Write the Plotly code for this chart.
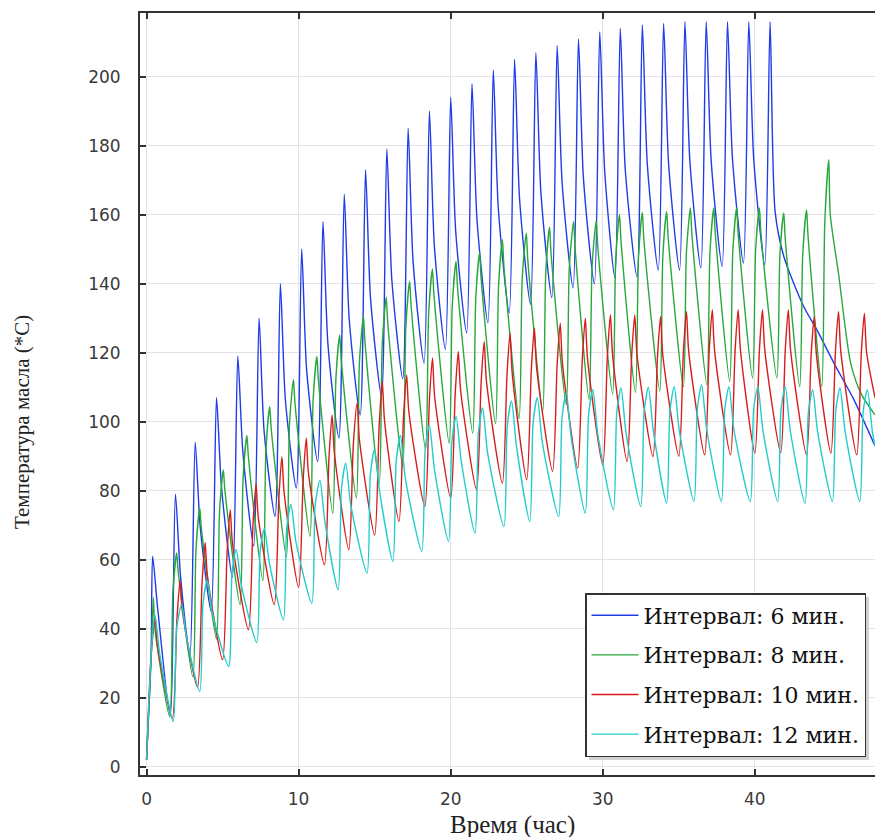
import plotly.graph_objects as go

# ---------------- data ----------------
START_T = [0.0, 0.3]
START_Y = [2.0, 32.0]

# Interval 6 min (blue)
blue_peak_t = [0.4, 1.9, 3.2, 4.6, 6.0, 7.4, 8.8, 10.2, 11.6, 13.0, 14.4, 15.8, 17.2, 18.6, 20.0,
               21.4, 22.8, 24.2, 25.6, 27.0, 28.4, 29.8, 31.15, 32.6, 34.0, 35.4, 36.8, 38.2, 39.6, 41.0]
blue_peak_y = [61, 79, 94, 107, 119, 130, 140, 150, 158, 166, 173, 179, 185, 190, 194,
               198, 202, 205, 207, 209, 211, 213, 214, 215, 215.5, 216, 216, 216, 216, 216]
blue_trough_t = [1.55, 2.85, 4.25, 5.65, 7.05, 8.45, 9.85, 11.25, 12.65, 14.05, 15.45, 16.85, 18.25, 19.65,
                 21.05, 22.45, 23.85, 25.25, 26.65, 28.05, 29.45, 30.8, 32.25, 33.65, 35.05, 36.45, 37.85, 39.25, 40.65]
blue_trough_y = [15, 32, 45, 55, 64, 72.6, 80.8, 88.5, 95.3, 102, 107.5, 112.5, 117, 121,
                 125.8, 128.7, 131.6, 134, 136, 138.8, 140, 141.7, 142, 144, 144, 144.6, 145, 146, 145.5]
blue_shoulder_y = [46, 55.5, 69.5, 81, 91.5, 97.3, 106.3, 114.9, 122.3, 129.5, 135.7, 141.1, 146.2, 150.7,
                   155.1, 158.5, 161.9, 164.5, 166.5, 169, 170.5, 172.4, 173, 174.5, 174.7, 175.3, 175.5, 176.1, 175.8]
blue_knee_y = None
blue_tail_t = [41.33, 41.9, 43.2, 44.1, 45.2, 46.5, 47.9]
blue_tail_y = [161, 148, 133.5, 126.5, 117, 106.5, 93]

# Interval 8 min (green)
green_peak_t = [0.45, 1.98, 3.5, 5.05, 6.6, 8.1, 9.66, 11.2, 12.7, 14.26, 15.76, 17.3, 18.8, 20.35, 21.9,
                23.4, 24.97, 26.5, 28.08, 29.57, 31.1, 32.6, 34.2, 35.76, 37.3, 38.8, 40.3, 41.9, 43.4, 44.86]
green_peak_y = [49, 62, 75, 86, 96, 104.4, 112.2, 118.9, 125.2, 130.5, 136.1, 140.7, 144.3, 146.5, 149,
                152.8, 154.7, 156.4, 158, 158.3, 160, 160.7, 161, 162, 162, 162, 162, 160.5, 161.4, 176]
green_trough_t = [1.53, 3.05, 4.6, 6.15, 7.65, 9.2, 10.75, 12.25, 13.8, 15.3, 16.85, 18.35, 19.9, 21.45, 22.95,
                  24.5, 26.05, 27.6, 29.1, 30.65, 32.15, 33.75, 35.3, 36.85, 38.35, 39.85, 41.45, 42.95, 44.4]
green_trough_y = [14.5, 26, 37, 47, 54, 61, 66.8, 73.5, 77.9, 82.2, 87, 91.9, 93.8, 96.7, 99.4,
                  101, 103, 105, 106.5, 108, 108.5, 109, 110.2, 110.7, 111.7, 112.7, 112.7, 110.2, 110.2]
green_knee_y = [50.1, 62.8, 73.8, 83.8, 91.8, 99.4, 105.9, 112.3, 117.4, 122.6, 127.3, 131.2, 133.3, 135.9, 139.5,
                141.3, 143.1, 144.8, 145.4, 147, 147.7, 148, 149.1, 149.2, 149.4, 149.7, 148.6, 148.6, 158]
green_shoulder_y = [40, 56.6, 69.3, 80.2, 89.7, 97.9, 105.4, 112.1, 118.1, 123.3, 128.7, 133.4, 136.7, 139, 141.6,
                    145, 146.9, 148.7, 150.3, 150.8, 152.3, 152.9, 153.4, 154.3, 154.5, 154.6, 154.6, 153, 153.7]
green_tail_t = [44.96, 45.5, 46.3, 47.0, 47.9]
green_tail_y = [160, 143, 117, 108, 102]

# Interval 10 min (red)
red_peak_t = [0.56, 2.2, 3.85, 5.5, 7.2, 8.9, 10.5, 12.2, 13.85, 15.5, 17.1, 18.8, 20.5, 22.2, 23.9,
              25.5, 27.2, 28.85, 30.5, 32.1, 33.8, 35.5, 37.2, 38.9, 40.5, 42.2, 43.9, 45.5, 47.2]
red_peak_y = [43.6, 54, 65, 74.5, 82, 89.9, 95.3, 102, 105.5, 111.7, 113.6, 118.5, 120.4, 123.3, 125.7,
              127.2, 128.6, 130, 131, 131, 130.5, 132, 132.5, 132.5, 132.5, 132.5, 130.5, 132, 131.5]
red_trough_t = [1.7, 3.35, 5.0, 6.7, 8.4, 10.0, 11.7, 13.3, 15.0, 16.6, 18.3, 20.0, 21.7, 23.4,
                25.0, 26.7, 28.35, 30.0, 31.6, 33.3, 35.0, 36.7, 38.4, 40.0, 41.7, 43.4, 45.0, 46.7]
red_trough_y = [14, 23, 31, 39.7, 47, 52, 58.5, 62.9, 67.2, 71.1, 75.4, 77.9, 80.3, 82.2,
                83.2, 85.6, 86.6, 87.5, 88.5, 89.9, 90, 90.4, 90.4, 90.9, 91, 90.4, 90.9, 90.4]
red_knee_y = [42.8, 53.2, 62.3, 70.2, 77.9, 83.2, 89.8, 93.6, 99.2, 101.7, 106.4, 108.5, 111.3, 113.5,
              114.9, 116.6, 117.8, 118.8, 119.1, 119.1, 120.2, 120.7, 120.7, 120.9, 120.9, 119.3, 120.5, 120]
red_shoulder_y = [35.3, 45.3, 55.5, 64.8, 72.2, 79.3, 85, 91.1, 94.8, 100.3, 102.9, 107.1, 109.2, 111.8,
                  113.8, 115.6, 116.8, 118.1, 119.1, 119.5, 119.2, 120.4, 120.7, 120.9, 120.9, 120.7, 119.4, 120.4]
red_tail_t = [47.35, 47.9]
red_tail_y = [120, 107]

# Interval 12 min (cyan)
cyan_peak_t = [0.55, 2.3, 4.0, 5.9, 7.75, 9.5, 11.4, 13.1, 15.0, 16.7, 18.6, 20.36, 22.1, 24.0,
               25.7, 27.6, 29.35, 31.2, 33.0, 34.7, 36.5, 38.3, 40.2, 42.0, 43.8, 45.6, 47.4]
cyan_peak_y = [44, 47, 54, 63, 69, 76, 83, 88, 92, 96, 99, 101.5, 104, 106,
               107, 108.3, 109.3, 109.8, 110, 110.2, 110.7, 110.2, 110.2, 110.2, 109.3, 109.8, 109.3]
cyan_trough_t = [1.76, 3.5, 5.4, 7.25, 9.0, 10.87, 12.6, 14.5, 16.2, 18.1, 19.86, 21.6, 23.5,
                 25.2, 27.1, 28.85, 30.7, 32.5, 34.2, 36.0, 37.8, 39.7, 41.5, 43.3, 45.1, 46.9]
cyan_trough_y = [13.1, 21.8, 29.1, 36, 42.6, 47.4, 51.3, 56.1, 59.5, 62.4, 65.3, 67.7, 69.6,
                 71.1, 72.5, 73.5, 74.5, 75.4, 76.4, 76.9, 76.9, 76.9, 76.9, 76.4, 76.9, 76.9]
cyan_knee_y = [40.2, 47.6, 56.2, 62.4, 69.3, 75.9, 80.7, 84.8, 88.7, 91.7, 94.3, 96.7, 98.7,
               99.8, 101.1, 102.1, 102.7, 103.1, 103.4, 103.9, 103.5, 103.5, 103.5, 102.7, 103.2, 102.8]
cyan_shoulder_y = [32.3, 37.4, 44.5, 52.7, 59, 65.1, 71, 75.9, 79.7, 83.2, 86.2, 88.7, 90.9,
                   92.7, 93.9, 95.1, 96.1, 96.7, 97.2, 97.5, 97.9, 97.5, 97.5, 97.4, 97, 97.3]
cyan_tail_t = [47.73, 47.9]
cyan_tail_y = [97, 93]

series_names = ["Интервал: 6 мин.", "Интервал: 8 мин.", "Интервал: 10 мин.", "Интервал: 12 мин."]
series_colors = ["#1f3ce6", "#27a83a", "#d81b1b", "#22cccc"]
knee_dt = [0.0, 0.2, 0.3, 0.22]
shoulder_dt = [0.33, 0.1, 0.15, 0.33]

x_ticks = [0, 10, 20, 30, 40]
y_ticks = [0, 20, 40, 60, 80, 100, 120, 140, 160, 180, 200]


def build(peak_t, peak_y, trough_t, trough_y, knee_y, shoulder_y, tail_t, tail_y, kdt, sdt):
    xs = list(START_T)
    ys = list(START_Y)
    xs += [peak_t[0], peak_t[0] + sdt]
    ys += [peak_y[0], shoulder_y[0]]
    for i in range(len(trough_t)):
        xs.append(trough_t[i]); ys.append(trough_y[i])
        if knee_y is not None:
            xs.append(trough_t[i] + kdt); ys.append(knee_y[i])
        xs.append(peak_t[i + 1]); ys.append(peak_y[i + 1])
        if i + 1 < len(shoulder_y):
            xs.append(peak_t[i + 1] + sdt); ys.append(shoulder_y[i + 1])
    xs += tail_t
    ys += tail_y
    return xs, ys


all_series = [
    (blue_peak_t, blue_peak_y, blue_trough_t, blue_trough_y, blue_knee_y, blue_shoulder_y, blue_tail_t, blue_tail_y),
    (green_peak_t, green_peak_y, green_trough_t, green_trough_y, green_knee_y, green_shoulder_y, green_tail_t, green_tail_y),
    (red_peak_t, red_peak_y, red_trough_t, red_trough_y, red_knee_y, red_shoulder_y, red_tail_t, red_tail_y),
    (cyan_peak_t, cyan_peak_y, cyan_trough_t, cyan_trough_y, cyan_knee_y, cyan_shoulder_y, cyan_tail_t, cyan_tail_y),
]

fig = go.Figure()
for k, s in enumerate(all_series):
    xs, ys = build(*s, knee_dt[k], shoulder_dt[k])
    fig.add_trace(go.Scatter(x=xs, y=ys, mode="lines", name=series_names[k], legendgroup=str(k),
                             line=dict(color=series_colors[k], width=1.4, shape="spline", smoothing=0.7)))

tick_font = dict(family="DejaVu Sans", size=17, color="#3a3a3a")

# legend shadow (paper coords)
fig.add_shape(type="rect", xref="paper", yref="paper", x0=(589 - 140) / 735, x1=(869 - 140) / 735,
              y0=1 - (760 - 13) / 762, y1=1 - (597 - 13) / 762,
              fillcolor="#d2d2d2", line=dict(width=0), layer="above")

fig.update_layout(
    width=875, height=837,
    margin=dict(l=140, r=0, t=13, b=62),
    paper_bgcolor="white", plot_bgcolor="white",
    showlegend=True,
    legend=dict(x=(585 - 140) / 735, y=1 - (593 - 13) / 762, xanchor="left", yanchor="top",
                bgcolor="white", bordercolor="#333", borderwidth=1.5,
                font=dict(family="DejaVu Serif", size=22, color="#111"),
                tracegroupgap=8, itemwidth=47),
    annotations=[
        dict(text="Время (час)", xref="paper", yref="paper", x=(512 - 140) / 735, y=-(825 - 775) / 762,
             xanchor="center", yanchor="middle", showarrow=False,
             font=dict(family="Liberation Serif", size=25, color="#222")),
        dict(text="Температура масла (*С)", xref="paper", yref="paper", x=-(140 - 22) / 735,
             y=1 - (422 - 13) / 762, xanchor="center", yanchor="middle", textangle=-90,
             showarrow=False, font=dict(family="Liberation Serif", size=21, color="#222")),
    ],
)
fig.update_xaxes(
    range=[-0.43, 47.9], tickvals=x_ticks, ticks="inside", ticklen=6, tickwidth=1.5, tickcolor="#333",
    showline=True, linecolor="#333", linewidth=2, mirror="ticks",
    showgrid=True, gridcolor="#e3e3e3", gridwidth=1, zeroline=False,
    tickfont=tick_font, ticklabelstandoff=8,
)
fig.update_yaxes(
    range=[-2.4, 218.5], tickvals=y_ticks, ticks="inside", ticklen=6, tickwidth=1.5, tickcolor="#333",
    showline=True, linecolor="#333", linewidth=2, mirror=False,
    showgrid=True, gridcolor="#e3e3e3", gridwidth=1, zeroline=False,
    tickfont=tick_font, ticklabelstandoff=14,
)

fig.write_html("out.html")
